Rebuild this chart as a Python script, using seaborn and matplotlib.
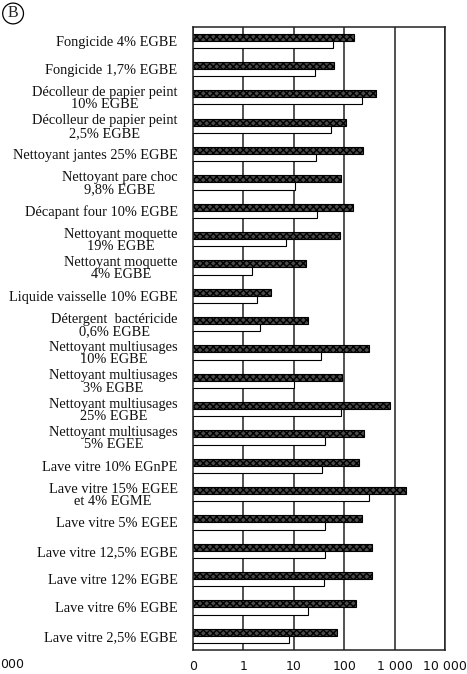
import pandas as pd
import matplotlib
matplotlib.use("Agg")
import matplotlib.pyplot as plt
import seaborn as sns

# -----------------------------
# DATA (log scale)
# -----------------------------
products = [
    "Fongicide 4% EGBE",
    "Fongicide 1,7% EGBE",
    "Décolleur de papier peint\n10% EGBE",
    "Décolleur de papier peint\n2,5% EGBE",
    "Nettoyant jantes 25% EGBE",
    "Nettoyant pare choc\n9,8% EGBE",
    "Décapant four 10% EGBE",
    "Nettoyant moquette\n19% EGBE",
    "Nettoyant moquette\n4% EGBE",
    "Liquide vaisselle 10% EGBE",
    "Détergent  bactéricide\n0,6% EGBE",
    "Nettoyant multiusages\n10% EGBE",
    "Nettoyant multiusages\n3% EGBE",
    "Nettoyant multiusages\n25% EGBE",
    "Nettoyant multiusages\n5% EGEE",
    "Lave vitre 10% EGnPE",
    "Lave vitre 15% EGEE\net 4% EGME",
    "Lave vitre 5% EGEE",
    "Lave vitre 12,5% EGBE",
    "Lave vitre 12% EGBE",
    "Lave vitre 6% EGBE",
    "Lave vitre 2,5% EGBE",
]
dark_values = [155, 63, 437, 110, 233, 88, 148, 83, 17.5, 3.5, 19, 316,
               92, 800, 251, 200, 1700, 225, 360, 352, 174, 71]
white_values = [61, 26, 222, 56, 28, 10.7, 29, 7, 1.5, 1.9, 2.1, 34,
                10.2, 85, 42, 36, 309, 41, 41, 39, 19, 8]
series = ["A", "B"]
tick_values = [0.1, 1, 10, 100, 1000, 10000]
tick_labels = ["0", "1", "10", "100", "1 000", "10 000"]

df = pd.DataFrame({
    "Produit": products * 2,
    "Valeur": dark_values + white_values,
    "Serie": [series[0]] * len(products) + [series[1]] * len(products),
})

# -----------------------------
# PLOT
# -----------------------------
sns.set_style("white")
fig = plt.figure(figsize=(4.67, 6.74), dpi=100)
ax = fig.add_axes([0.413, 0.0356, 0.540, 0.925])

sns.barplot(data=df, x="Valeur", y="Produit", hue="Serie", orient="h",
            palette=["#4a4a4a", "#ffffff"], width=0.5, legend=False,
            edgecolor="black", linewidth=0.8, saturation=1, ax=ax)

for bar in ax.containers[0]:
    bar.set_hatch("xxxxx")

ax.set_xscale("log")
ax.set_xlim(0.1, 10000)
ax.set_ylim(len(products) - 0.5, -0.5)
ax.set_xticks(tick_values)
ax.set_xticklabels(tick_labels)
ax.minorticks_off()
ax.set_axisbelow(True)
ax.grid(axis="x", color="#222222", linewidth=1.1)
ax.grid(axis="y", visible=False)

for side in ["top", "bottom", "left", "right"]:
    ax.spines[side].set_visible(True)
    ax.spines[side].set_color("#222222")
    ax.spines[side].set_linewidth(1.1)

ax.set_xlabel("")
ax.set_ylabel("")
ax.tick_params(axis="both", length=0)
ax.tick_params(axis="y", pad=11)
ax.tick_params(axis="x", pad=7)

for lab in ax.get_yticklabels():
    lab.set_family("Liberation Serif")
    lab.set_fontsize(10.4)
    lab.set_multialignment("center")
    lab.set_linespacing(0.95)
    lab.set_color("#111111")
for lab in ax.get_xticklabels():
    lab.set_family("DejaVu Sans")
    lab.set_fontsize(9)
    lab.set_color("#111111")

# circled panel letter and clipped text from neighbouring panel
fig.text(0.028, 0.980, "B", family="Liberation Serif", fontsize=11.5,
         ha="center", va="center",
         bbox=dict(boxstyle="circle,pad=0.15", fc="white", ec="black", lw=0.9))
fig.text(0.0, 0.014, "000", family="DejaVu Sans", fontsize=9,
         color="#111111", ha="left", va="center")

plt.savefig("out.png", dpi=100)
